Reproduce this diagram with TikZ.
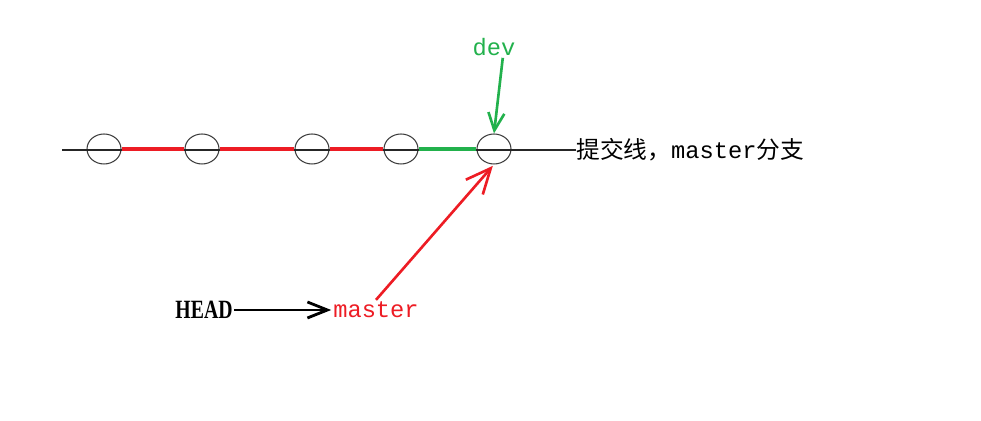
\documentclass[tikz,border=0pt]{standalone}
\usepackage{fontspec}
\usepackage{xcolor}
\usetikzlibrary{arrows.meta, shapes.geometric}
\setmonofont{Liberation Mono}
\newfontfamily\cjk{Noto Sans CJK SC}
\newfontfamily\headfont{Liberation Serif}
\definecolor{gitred}{RGB}{237, 28, 36}
\definecolor{gitgreen}{RGB}{34, 177, 76}
\definecolor{gitgray}{RGB}{60, 60, 60}

\begin{document}
\begin{tikzpicture}[
  x=0.02cm, y=-0.02cm,
  commitnode/.style={
    ellipse, draw=gitgray, line width=0.6pt,
    minimum width=0.68cm, minimum height=0.6cm,
    inner sep=0pt
  },
  refnode/.style={
    font=\ttfamily\fontsize{13.5}{16}\selectfont, text=#1,
    inner sep=1pt
  },
  baseline/.style={draw=black!85, line width=0.6pt},
  redline/.style={draw=gitred, line width=2.3pt},
  greenline/.style={draw=gitgreen, line width=2.3pt},
  redarrow/.style={
    draw=gitred, line width=1.5pt,
    -{Straight Barb[length=5mm, width=4.5mm]}, shorten >=1pt
  },
  greenarrow/.style={
    draw=gitgreen, line width=1.5pt,
    -{Straight Barb[length=3.5mm, width=3.2mm]}
  },
  headarrow/.style={
    draw=black, line width=1.6pt,
    -{Straight Barb[length=4mm, width=3.2mm]}
  },
]

\useasboundingbox (0, 0) rectangle (981, 421);

%% ================================================================
%% COMMIT LINE
%% ================================================================

% Commits on master, left to right
\node[commitnode] (c1) at (104, 149) {};
\node[commitnode] (c2) at (202, 149) {};
\node[commitnode] (c3) at (312, 149) {};
\node[commitnode] (c4) at (401, 149) {};
\node[commitnode] (c5) at (494, 149) {};

% Line label
\node[anchor=west, inner sep=0pt, font=\fontsize{13.5}{16}\selectfont]
  (linelabel) at (576, 150) {\cjk 提交线，\ttfamily master\cjk 分支};

% Base line through all commits
\coordinate (start) at (62, 150);
\draw[baseline] (start) -- (linelabel.west);

% History segments
\draw[redline]   (c1.east) -- (c2.west);
\draw[redline]   (c2.east) -- (c3.west);
\draw[redline]   (c3.east) -- (c4.west);
\draw[greenline] (c4.east) -- (c5.west);

%% ================================================================
%% POINTERS
%% ================================================================

\node[refnode=gitgreen] (dev)    at (494, 47)  {dev};
\node[refnode=gitred]   (master) at (376, 310) {master};
\node[font=\headfont\bfseries\fontsize{15}{18}\selectfont, xscale=0.75,
      inner sep=1pt] (head) at (204, 310) {HEAD};

\draw[greenarrow] ([xshift=5pt]dev.south) -- (c5.north);
\draw[redarrow]   (master.north) -- (c5.south);
\draw[headarrow]  (head.east) -- (master.west);

\end{tikzpicture}
\end{document}
